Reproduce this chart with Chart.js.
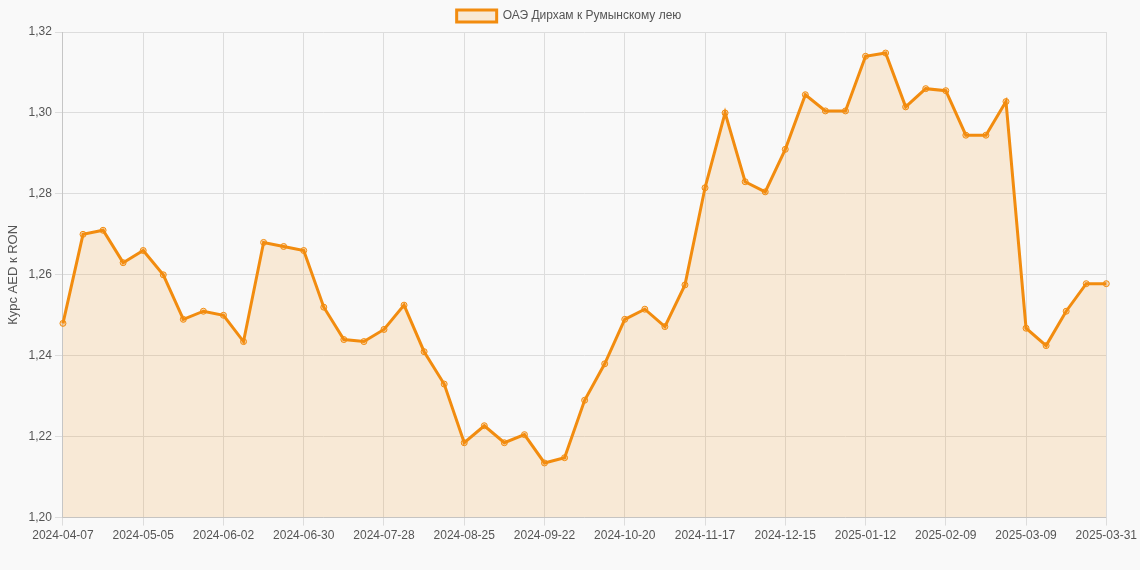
<!DOCTYPE html>
<html><head><meta charset="utf-8">
<script src="https://cdn.jsdelivr.net/npm/chart.js@4"></script>
<style>html,body{margin:0;background:#f9f9f9}#w{width:1140px;height:570px}</style>
</head><body><div id="w"><canvas id="c"></canvas></div>
<script>
const labels=["2024-04-07","2024-04-14","2024-04-21","2024-04-28","2024-05-05","2024-05-12","2024-05-19","2024-05-26","2024-06-02","2024-06-09","2024-06-16","2024-06-23","2024-06-30","2024-07-07","2024-07-14","2024-07-21","2024-07-28","2024-08-04","2024-08-11","2024-08-18","2024-08-25","2024-09-01","2024-09-08","2024-09-15","2024-09-22","2024-09-29","2024-10-06","2024-10-13","2024-10-20","2024-10-27","2024-11-03","2024-11-10","2024-11-17","2024-11-24","2024-12-01","2024-12-08","2024-12-15","2024-12-22","2024-12-29","2025-01-05","2025-01-12","2025-01-19","2025-01-26","2025-02-02","2025-02-09","2025-02-16","2025-02-23","2025-03-02","2025-03-09","2025-03-16","2025-03-23","2025-03-30","2025-03-31"];
const rates=[1.248,1.270,1.271,1.263,1.266,1.260,1.249,1.251,1.250,1.2435,1.268,1.267,1.266,1.252,1.244,1.2435,1.2465,1.2525,1.241,1.233,1.2185,1.2227,1.2185,1.2205,1.2135,1.2148,1.229,1.238,1.249,1.2515,1.2472,1.2575,1.2815,1.300,1.283,1.2805,1.291,1.3045,1.3005,1.3005,1.314,1.3148,1.3015,1.306,1.3055,1.2945,1.2945,1.3028,1.2468,1.2425,1.251,1.2578,1.2578];
const seriesName="ОАЭ Дирхам к Румынскому лею";
const yTitle="Курс AED к RON";
const fmt=v=>v.toFixed(2).replace('.',',');
new Chart(document.getElementById('c'),{type:'line',
data:{labels,datasets:[{label:seriesName,data:rates,borderColor:'#f28c0f',backgroundColor:'rgba(242,140,15,0.15)',fill:true,borderWidth:3,tension:0,pointRadius:3,pointBackgroundColor:'rgba(242,140,15,0.3)',pointBorderColor:'#f28c0f',pointBorderWidth:1}]},
options:{responsive:true,maintainAspectRatio:false,animation:false,
layout:{padding:{right:4,bottom:24,left:2}},
plugins:{legend:{labels:{font:{family:'Arial',size:12},color:'#555',boxWidth:40}}},
scales:{
x:{grid:{color:'#ddd'},ticks:{autoSkip:false,maxRotation:0,color:'#555',font:{family:'Arial',size:12},callback:(v,i)=>(i%4===0||i===labels.length-1)?labels[i]:null}},
y:{min:1.20,max:1.32,grid:{color:'#ddd'},ticks:{stepSize:0.02,color:'#555',font:{family:'Arial',size:12},callback:v=>fmt(v)},title:{display:true,text:yTitle,color:'#555',font:{family:'Arial',size:13}}}}}});
</script></body></html>
